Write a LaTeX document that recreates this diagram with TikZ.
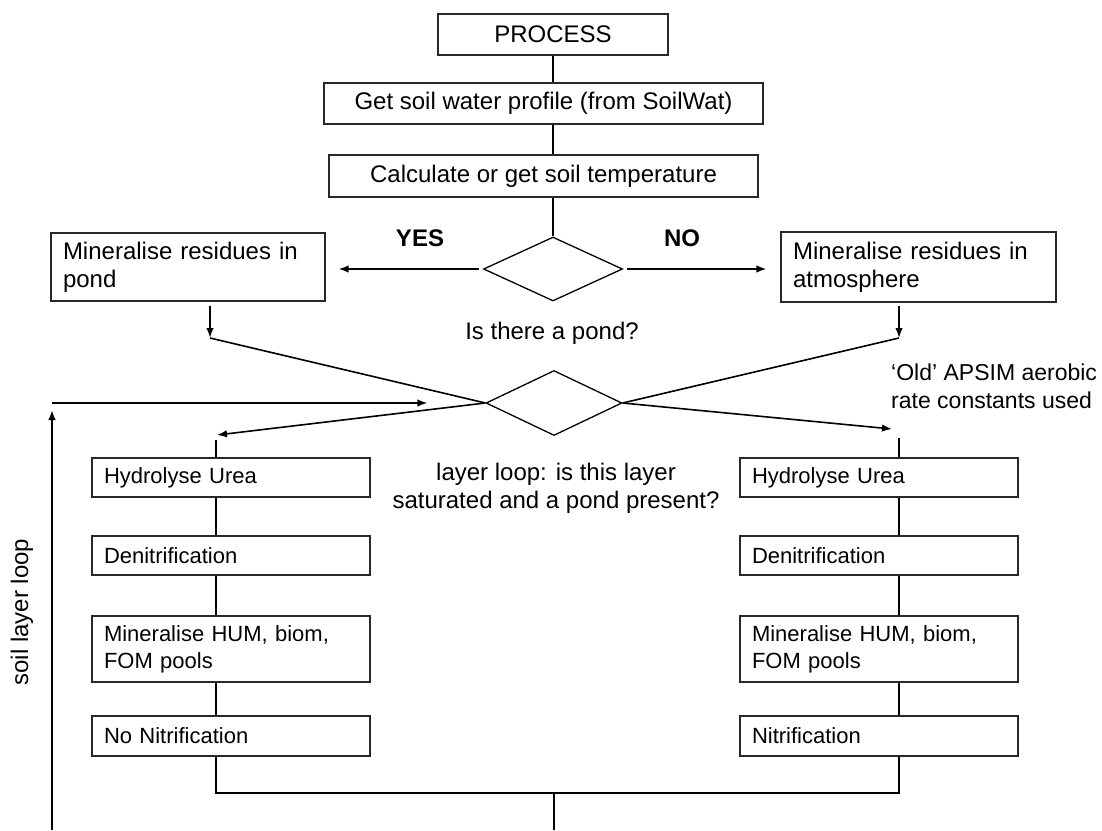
\documentclass[tikz,border=0pt]{standalone}
\usepackage{fontspec}
\setmainfont{Liberation Sans}
\usetikzlibrary{positioning,arrows.meta,shapes.geometric,calc}
\definecolor{boxline}{RGB}{40,40,40}

\begin{document}
\begin{tikzpicture}[x=1pt,y=-1pt,font=\fontsize{24}{28}\selectfont,
    box/.style={draw=boxline,line width=1.3pt,inner sep=0pt,minimum height=41pt},
    cbox/.style={box,align=center},
    lbox/.style={box,text width=#1,align=left,inner xsep=12pt},
    sbox/.style={lbox=254pt,font=\fontsize{22}{27}\selectfont,minimum height=39pt},
    dec/.style={diamond,draw,line width=1.3pt,minimum width=139pt,minimum height=64pt,inner sep=0pt},
    conn/.style={line width=1.6pt},
    arr/.style={conn,-{Latex[length=10pt,width=7.5pt]}}]
    \useasboundingbox (0,0) rectangle (1102,830);
    % main sequence
    \node[cbox,minimum width=230pt] (process) at (553,34.5) {PROCESS};
    \node[cbox,minimum width=439pt] (soilwat) at (543.5,103.5) {Get soil water profile (from SoilWat)};
    \node[cbox,minimum width=429pt,minimum height=42pt] (soiltemp) at (543.5,176) {Calculate or get soil temperature};
    \node[dec] (pond) at (553,269) {};
    \node[lbox=250pt,minimum height=68pt] (respond) at (188,267) {Mineralise residues in\\pond};
    \node[lbox=251pt,minimum height=70pt] (resatm) at (918.5,267) {Mineralise residues in\\atmosphere};
    \node[font=\fontsize{24}{28}\selectfont\bfseries] (yes) at (420,238) {YES};
    \node[font=\fontsize{24}{28}\selectfont\bfseries] (no) at (682,238) {NO};
    \node (pondq) at (552,333) {Is there a pond?};
    \node[dec,minimum width=136pt,minimum height=65pt] (layer) at (554,403) {};
    \node[align=center] (layerq) at (556,488) {layer loop: is this layer\\saturated and a pond present?};
    \node[align=left,anchor=west,inner sep=0pt,font=\fontsize{23}{28}\selectfont] (oldrate) at (891,386) {‘Old’ APSIM aerobic\\rate constants used};
    \node[rotate=90] (looplbl) at (22,612) {soil layer loop};
    % layer branches
    \node[sbox] (hydL) at (231,477.5) {Hydrolyse Urea};
    \node[sbox] (denL) at (231,555.5) {Denitrification};
    \node[sbox,minimum height=66pt] (humL) at (231,649) {Mineralise HUM, biom,\\FOM pools};
    \node[sbox,minimum height=40pt] (nitL) at (231,736) {No Nitrification};
    \node[sbox] (hydR) at (879,477.5) {Hydrolyse Urea};
    \node[sbox] (denR) at (879,555.5) {Denitrification};
    \node[sbox,minimum height=66pt] (humR) at (879,649) {Mineralise HUM, biom,\\FOM pools};
    \node[sbox,minimum height=40pt] (nitR) at (879,736) {Nitrification};
    % junction points
    \coordinate (lj) at (210,338);
    \coordinate (rj) at (899,338);
    \coordinate (la) at (217,435);
    \coordinate (ra) at (892,429);
    \coordinate (ls) at (216,440);
    \coordinate (rs) at (899,438);
    \coordinate (loopb) at (52,830);
    \coordinate (loopt) at (52,403);
    \coordinate (mergeL) at (216,793);
    \coordinate (mergeR) at (899,793);
    \coordinate (exit) at (554,830);
    % connectors
    \draw[conn] (process.south) -- (process.south |- soilwat.north);
    \draw[conn] (process.south |- soilwat.south) -- (process.south |- soiltemp.north);
    \draw[conn] (process.south |- soiltemp.south) -- (pond.north);
    \draw[arr,shorten <=4pt,shorten >=13pt] (pond.west) -- (respond.east |- pond.west);
    \draw[arr,shorten <=4pt,shorten >=14pt] (pond.east) -- (resatm.west |- pond.east);
    \draw[arr,shorten <=4pt] (respond.south -| lj) -- (lj);
    \draw[arr,shorten <=3pt] (resatm.south -| rj) -- (rj);
    \draw[conn] (lj) -- (layer.west);
    \draw[conn] (rj) -- (layer.east);
    \draw[arr,shorten >=7pt] (loopb) -- (loopt);
    \draw[arr,shorten >=58pt] (loopt) -- (layer.west);
    \draw[arr] (layer.west) -- (la);
    \draw[arr] (layer.east) -- (ra);
    \draw[conn] (ls) -- (ls |- hydL.north);
    \draw[conn] (rs) -- (rs |- hydR.north);
    \draw[conn] (hydL.south -| ls) -- (denL.north -| ls);
    \draw[conn] (denL.south -| ls) -- (humL.north -| ls);
    \draw[conn] (humL.south -| ls) -- (nitL.north -| ls);
    \draw[conn] (hydR.south -| rs) -- (denR.north -| rs);
    \draw[conn] (denR.south -| rs) -- (humR.north -| rs);
    \draw[conn] (humR.south -| rs) -- (nitR.north -| rs);
    \draw[conn] (nitL.south -| ls) -- (mergeL) -- (mergeR) -- (nitR.south -| rs);
    \draw[conn] (exit |- mergeL) -- (exit);
\end{tikzpicture}
\end{document}
